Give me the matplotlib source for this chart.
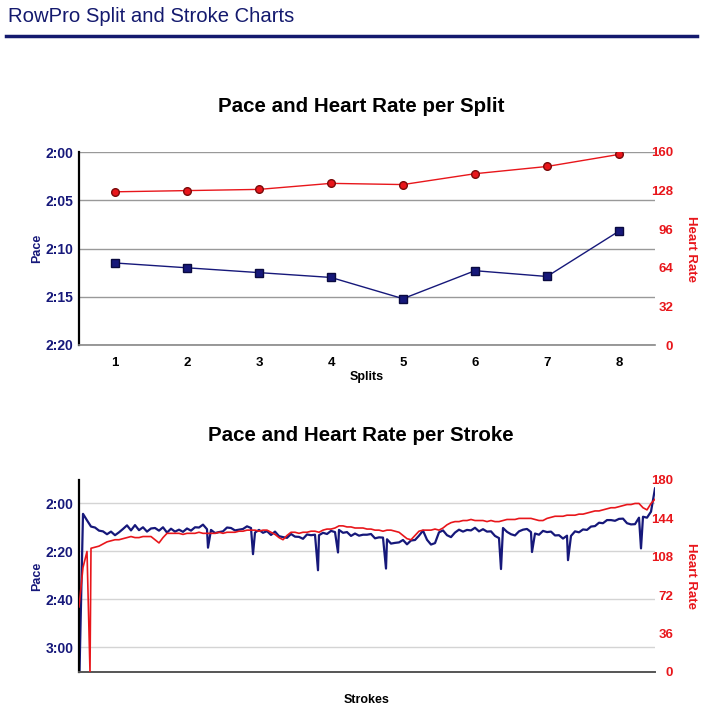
import matplotlib
matplotlib.use("Agg")
import matplotlib.pyplot as plt
from matplotlib.lines import Line2D
from matplotlib.ticker import FuncFormatter
import numpy as np

plt.rcParams['font.family'] = ['Liberation Sans', 'DejaVu Sans']

navy = '#16187a'
red = '#e8161b'

# per split data (pace in seconds per 500m)
splits = [1, 2, 3, 4, 5, 6, 7, 8]
split_pace = [131.5, 132.0, 132.5, 133.0, 135.2, 132.3, 132.9, 128.2]
split_hr = [127, 128, 129, 134, 133, 142, 148, 158]

# per stroke data, one sample every 4 strokes
stroke_step = 4
stroke_pace = [
    200, 124.5, 127.2, 129.8, 130.2, 131.5, 131.8, 133, 131.9, 133.4, 132.2,
    130.8, 129.3, 131.4, 129.2, 131.3, 130.1, 131.9, 130.6, 130.4, 131.5,
    130.1, 132.3, 130.7, 131.9, 131.1, 132, 130.6, 131.5, 130.1, 130.2,
    129.0, 130.9, 131.2, 132.5, 132.1, 131.8, 130.2, 130.4, 131.4, 131.1,
    130.8, 129.7, 130.4, 132.3, 131.2, 132.4, 131.7, 133.3, 131.9, 133.8,
    134.2, 134.5, 132.9, 134, 134.1, 134.9, 133.1, 133.4, 133.2, 133.4,
    132.4, 132.9, 131.6, 132.1, 131.2, 132.4, 132.1, 133.7, 132.7, 133.6,
    133.2, 133.2, 132.9, 134.7, 134.3, 134.4, 135.1, 136.9, 136.6, 136.4,
    135.4, 137.2, 135.6, 135.4, 133.6, 131.5, 135.3, 137.3, 136.7, 132.2,
    131.4, 133.4, 134.2, 132.3, 131.1, 131.9, 131.2, 131.4, 130.3, 131.8,
    130.9, 131.9, 131.8, 133.7, 134.6, 130.4, 132, 133, 133.5, 131.8,
    131.1, 130.8, 132.1, 132.7, 133.2, 131.6, 132.1, 131.9, 133.5, 133.4,
    134.8, 133.6, 133.7, 131.8, 132.2, 131, 131.2, 129.8, 129.6, 128.2,
    128.4, 127.1, 127.1, 127.4, 126.6, 126.5, 128.4, 128.9, 128.8, 126.1,
    125.7, 126.1, 123.6, 113.9,
]
stroke_hr = [
    61, 98, 113, 116, 117, 118, 120, 122, 123, 124, 124,
    125, 126, 127, 126, 126, 127, 127, 127, 124, 121,
    126, 130, 130, 130, 130, 129, 130, 130, 130, 131,
    130, 130, 130, 130, 131, 130, 131, 131, 131, 132,
    132, 133, 133, 133, 132, 133, 133, 131, 129, 126,
    124, 128, 131, 131, 130, 131, 131, 132, 132, 131,
    133, 134, 134, 135, 137, 137, 136, 136, 135, 135,
    135, 134, 134, 133, 133, 132, 133, 133, 132, 131,
    128, 125, 124, 128, 132, 133, 133, 133, 134, 133,
    135, 138, 140, 141, 141, 142, 142, 143, 142, 142,
    142, 141, 142, 141, 141, 142, 143, 143, 143, 144,
    144, 144, 144, 143, 142, 142, 144, 145, 146, 146,
    146, 147, 147, 147, 148, 148, 149, 150, 151, 151,
    152, 153, 154, 154, 155, 156, 157, 157, 158, 158,
    154, 152, 158, 162,
]
# single slow strokes (pace spikes) and the heart rate dropout
spike_strokes = [129, 174, 239, 259, 307, 422, 453, 489, 562]
spike_pace = [138.6, 141.3, 148, 140.6, 147.3, 147.5, 140.4, 143.8, 138.9]
hr_drop_strokes = [11]
hr_drop_values = [0]


def pace_fmt(v, pos):
    v = int(round(v))
    return "%d:%02d" % (v // 60, v % 60)


fig = plt.figure(figsize=(7.13, 7.10), dpi=100)

fig.text(8 / 713, 1 - 17 / 710, "RowPro Split and Stroke Charts", color='#141a6e',
         fontsize=14.6, va='center', ha='left')
fig.add_artist(Line2D([6 / 713, 697 / 713], [1 - 36 / 710] * 2, color='#141a6e', lw=2.5))

W, H = 713, 710
left = 79 / W
width = (655 - 79) / W


def style_left(ax, ylabel, xlabel, xpad):
    ax.tick_params(length=0)
    ax.tick_params(axis='y', labelcolor=navy, labelsize=10, pad=4)
    ax.tick_params(axis='x', labelcolor='black', labelsize=9.5, pad=9)
    for lab in ax.get_xticklabels() + ax.get_yticklabels():
        lab.set_fontweight('bold')
    for s in ['top', 'right']:
        ax.spines[s].set_visible(False)
    ax.spines['left'].set_color('black')
    ax.spines['left'].set_linewidth(1.6)
    ax.set_ylabel(ylabel, color=navy, fontsize=9, fontweight='bold', labelpad=2)
    ax.set_xlabel(xlabel, color='black', fontsize=9, fontweight='bold', labelpad=xpad)


def style_right(ax):
    ax.tick_params(length=0, labelcolor=red, labelsize=9.5, pad=13)
    for lab in ax.get_yticklabels():
        lab.set_fontweight('bold')
        lab.set_horizontalalignment('right')
    for s in ax.spines.values():
        s.set_visible(False)
    ax.set_ylabel("Heart Rate", color=red, fontsize=9.5, fontweight='bold',
                  rotation=270, labelpad=17)


# ---- per split chart ----
ax1 = fig.add_axes([left, 1 - 345 / H, width, (345 - 152) / H])
ax1.plot(splits, split_pace, color=navy, lw=1, marker='s', ms=5.5,
         mfc=navy, mec='#0a0a40', zorder=3)
ax1.set_xlim(0.5, 8.5)
ax1.set_ylim(140, 120)
ax1.set_yticks([120, 125, 130, 135, 140])
ax1.yaxis.set_major_formatter(FuncFormatter(pace_fmt))
ax1.set_xticks(splits)
ax1.grid(axis='y', color='#999999', lw=1)
style_left(ax1, "Pace", "Splits", 1)
ax1.spines['bottom'].set_color('#888888')
ax1.spines['bottom'].set_linewidth(1.2)
ax1.set_title("Pace and Heart Rate per Split", fontsize=14.8, fontweight='bold',
              pad=29, x=0.49)

ax1r = ax1.twinx()
ax1r.plot(splits, split_hr, color=red, lw=1, marker='o', ms=5.5,
          mfc=red, mec='#7a0a0a', zorder=3)
ax1r.set_ylim(0, 160)
ax1r.set_yticks([0, 32, 64, 96, 128, 160])
style_right(ax1r)

# ---- per stroke chart ----
x_base = np.arange(len(stroke_pace)) * stroke_step
px = np.concatenate([x_base, spike_strokes])
py = np.concatenate([stroke_pace, spike_pace])
order = np.argsort(px, kind='stable')
hx = np.concatenate([np.arange(len(stroke_hr)) * stroke_step, hr_drop_strokes])
hy = np.concatenate([stroke_hr, hr_drop_values])
horder = np.argsort(hx, kind='stable')

ax2 = fig.add_axes([left, 1 - 672 / H, width, (672 - 480) / H])
ax2.plot(px[order], py[order], color=navy, lw=1.6)
ax2.set_xlim(0, (len(stroke_pace) - 1) * stroke_step)
ax2.set_ylim(190.4, 110.4)
ax2.set_yticks([120, 140, 160, 180])
ax2.yaxis.set_major_formatter(FuncFormatter(pace_fmt))
ax2.set_xticks([])
ax2.grid(axis='y', color='#d4d4d4', lw=1)
style_left(ax2, "Pace", "Strokes", 16)
ax2.spines['bottom'].set_color('#555555')
ax2.spines['bottom'].set_linewidth(1.4)
ax2.set_title("Pace and Heart Rate per Stroke", fontsize=14.8, fontweight='bold',
              pad=28, x=0.49)

ax2r = ax2.twinx()
ax2r.plot(hx[horder], hy[horder], color=red, lw=1.2)
ax2r.set_ylim(0, 180)
ax2r.set_yticks([0, 36, 72, 108, 144, 180])
style_right(ax2r)

fig.savefig("out.png", dpi=100)
